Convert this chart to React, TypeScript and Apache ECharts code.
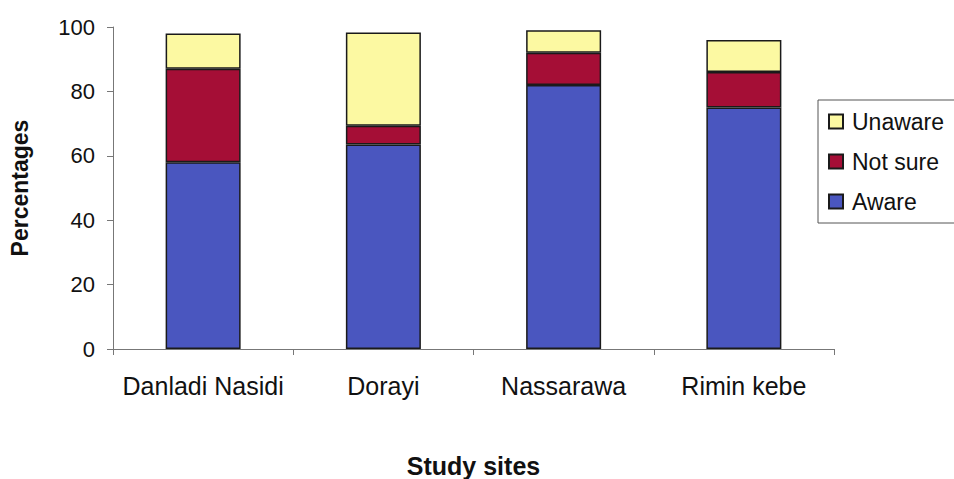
import React, { useEffect, useRef } from "react";
import * as echarts from "echarts";

const categories = ["Danladi Nasidi", "Dorayi", "Nassarawa", "Rimin kebe"];
const aware = [58, 63.5, 82, 75];
const notSure = [29, 5.8, 10, 11];
const unaware = [11, 29, 7, 10];
const yTicks = [0, 20, 40, 60, 80, 100];

const FONT = "'Liberation Sans', Arial, sans-serif";

export default function App() {
  const ref = useRef<HTMLDivElement>(null);
  useEffect(() => {
    const chart = echarts.init(ref.current!, null, { renderer: "svg" });
    const barStyle = (color: string) => ({
      color,
      borderColor: "#1a1a1a",
      borderWidth: 1.5,
    });
    chart.setOption({
      animation: false,
      backgroundColor: "#ffffff",
      textStyle: { fontFamily: FONT },
      grid: { left: 113, right: 120, top: 27, bottom: 130, containLabel: false, outerBoundsMode: "none" },
      legend: {
        orient: "vertical",
        left: 818,
        top: 100,
        width: 200,
        padding: [10, 40, 10, 10],
        itemGap: 17,
        itemWidth: 14,
        itemHeight: 14,
        borderColor: "#555",
        borderWidth: 1,
        textStyle: { fontFamily: FONT, fontSize: 23, color: "#111", padding: [0, 0, 0, 4] },
        data: [
          { name: "Unaware", icon: "rect" },
          { name: "Not sure", icon: "rect" },
          { name: "Aware", icon: "rect" },
        ],
      },
      xAxis: {
        type: "category",
        data: categories,
        name: "Study sites",
        nameLocation: "middle",
        nameGap: 104,
        nameTextStyle: { fontFamily: FONT, fontSize: 25, fontWeight: "bold", color: "#111" },
        axisLine: { lineStyle: { color: "#777", width: 1 } },
        axisTick: { show: true, length: 6, lineStyle: { color: "#777" } },
        axisLabel: { fontFamily: FONT, fontSize: 25, color: "#111", margin: 24, interval: 0, hideOverlap: false },
      },
      yAxis: {
        type: "value",
        min: yTicks[0],
        max: yTicks[yTicks.length - 1],
        interval: 20,
        name: "Percentages",
        nameLocation: "middle",
        nameGap: 82,
        nameTextStyle: { fontFamily: FONT, fontSize: 23, fontWeight: "bold", color: "#111" },
        axisLine: { show: true, lineStyle: { color: "#777", width: 1 } },
        axisTick: { show: true, length: 6, lineStyle: { color: "#777" } },
        axisLabel: { fontFamily: FONT, fontSize: 22, color: "#111", margin: 18 },
        splitLine: { show: false },
      },
      series: [
        { name: "Aware", type: "bar", stack: "s", data: aware, barWidth: 75, itemStyle: barStyle("#4A56BF") },
        { name: "Not sure", type: "bar", stack: "s", data: notSure, barWidth: 75, itemStyle: barStyle("#A50E36") },
        { name: "Unaware", type: "bar", stack: "s", data: unaware, barWidth: 75, itemStyle: barStyle("#FCF9A2") },
      ],
    });
    return () => chart.dispose();
  }, []);
  return <div ref={ref} style={{ width: 954, height: 479, position: "absolute", left: 0, top: 0 }} />;
}
